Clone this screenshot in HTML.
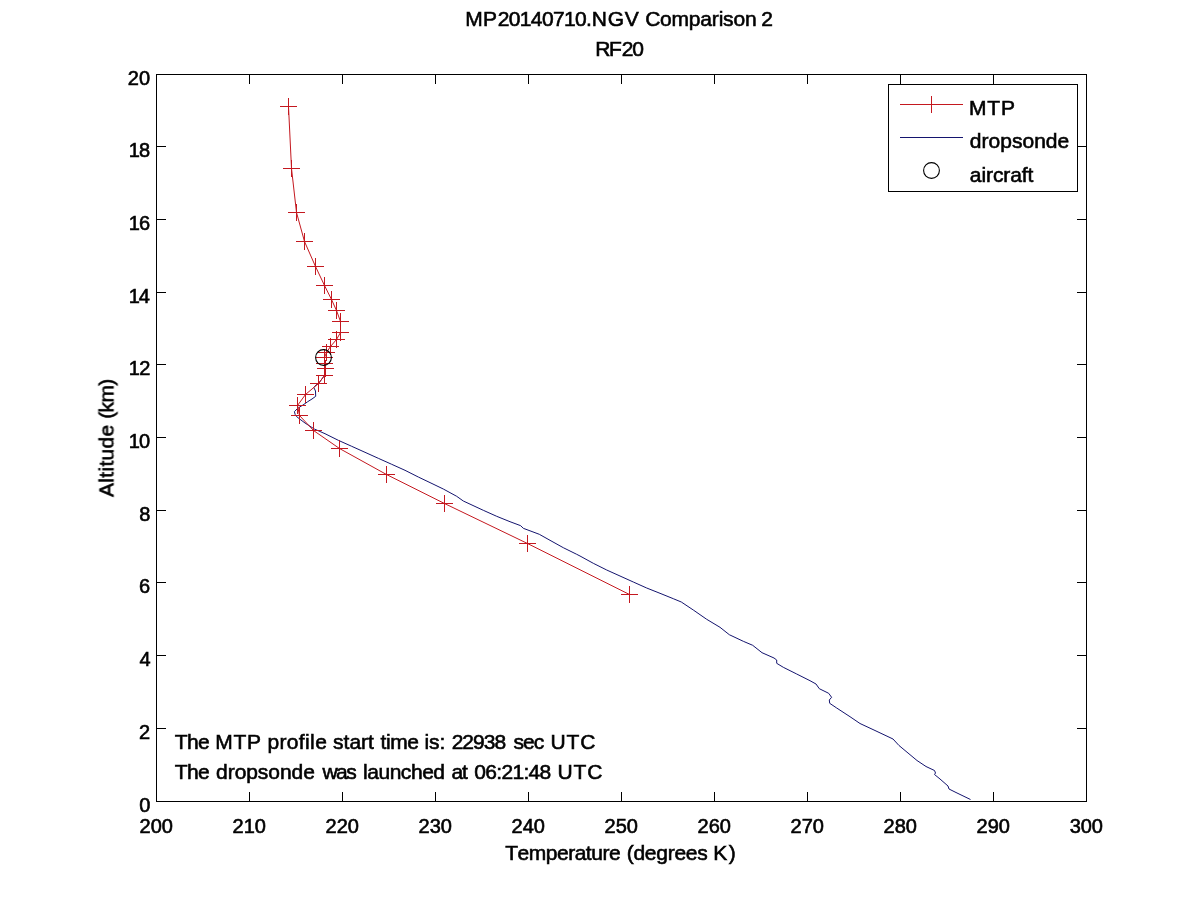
<!DOCTYPE html>
<html lang="en">
<head>
<meta charset="utf-8">
<title>MP20140710.NGV Comparison 2 - RF20</title>
<style>
html,body{margin:0;padding:0;background:#fff;}
body{width:1200px;height:900px;overflow:hidden;font-family:"Liberation Sans",Arial,Helvetica,sans-serif;}
svg{display:block;}
</style>
</head>
<body>
<svg width="1200" height="900" viewBox="0 0 1200 900">
<rect width="1200" height="900" fill="#fff"/>
<polyline points="324.5,357.5 324.5,363.5 325.5,368.5 324.5,375.5 318.5,383.5 316.0,385.0 313.8,387.5 315.5,391.0 315.7,396.3 312.0,399.0 307.7,401.7 303.0,405.0 299.7,407.0 297.0,409.0 294.4,411.7 295.2,414.5 296.3,416.3 300.0,419.3 305.0,423.0 314.3,429.0 325.0,433.7 338.3,440.3 351.7,446.3 365.0,452.3 378.3,458.3 391.7,464.3 405.0,470.3 418.3,477.0 430.0,482.6 443.3,489.0 456.7,496.3 463.3,501.0 483.3,510.3 496.7,516.3 510.0,521.7 520.7,525.7 523.3,528.3 539.3,534.3 550.0,540.3 563.3,547.7 576.7,554.3 580.0,556.0 593.3,563.3 606.7,570.0 620.0,576.0 633.3,582.0 646.7,588.0 660.0,593.3 673.3,598.7 681.3,602.0 693.3,610.0 706.7,619.3 720.0,627.3 729.3,634.7 743.3,641.3 752.7,645.3 762.0,652.7 774.0,658.0 776.7,660.0 776.7,663.3 783.3,667.3 796.7,674.0 810.0,680.7 816.0,684.0 819.3,688.7 828.7,693.3 831.6,697.3 829.3,700.0 829.7,703.3 836.7,708.0 850.0,716.7 860.0,723.5 875.0,730.5 893.0,739.0 899.0,745.5 908.0,753.0 917.0,760.5 926.0,766.5 934.5,770.5 935.5,773.0 934.5,774.5 940.0,779.0 948.0,786.0 949.0,789.0 956.0,792.5 970.5,799.5" fill="none" stroke="#14146e" stroke-width="1"/>
<polyline points="288.5,106.5 291.5,168.5 296.5,212.5 304.5,241.5 315.5,266.5 324.5,285.5 331.5,299.5 336.5,310.5 340.5,321.5 340.5,332.5 336.5,339.5 330.5,346.5 326.5,352.5 324.5,357.5 324.5,363.5 325.5,368.5 324.5,375.5 318.5,383.5 305.5,394.5 297.5,405.5 299.5,415.5 313.5,430.5 339.5,448.5 386.5,474.5 444.5,503.5 527.5,543.5 629.5,594.5" fill="none" stroke="#c4181f" stroke-width="1"/>
<path d="M280.0 106.5h17M288.5 98.0v17M283.0 168.5h17M291.5 160.0v17M288.0 212.5h17M296.5 204.0v17M296.0 241.5h17M304.5 233.0v17M307.0 266.5h17M315.5 258.0v17M316.0 285.5h17M324.5 277.0v17M323.0 299.5h17M331.5 291.0v17M328.0 310.5h17M336.5 302.0v17M332.0 321.5h17M340.5 313.0v17M332.0 332.5h17M340.5 324.0v17M328.0 339.5h17M336.5 331.0v17M322.0 346.5h17M330.5 338.0v17M318.0 352.5h17M326.5 344.0v17M316.0 357.5h17M324.5 349.0v17M316.0 363.5h17M324.5 355.0v17M317.0 368.5h17M325.5 360.0v17M316.0 375.5h17M324.5 367.0v17M310.0 383.5h17M318.5 375.0v17M297.0 394.5h17M305.5 386.0v17M289.0 405.5h17M297.5 397.0v17M291.0 415.5h17M299.5 407.0v17M305.0 430.5h17M313.5 422.0v17M331.0 448.5h17M339.5 440.0v17M378.0 474.5h17M386.5 466.0v17M436.0 503.5h17M444.5 495.0v17M519.0 543.5h17M527.5 535.0v17M621.0 594.5h17M629.5 586.0v17" fill="none" stroke="#c4181f" stroke-width="1" shape-rendering="crispEdges"/>
<circle cx="323.5" cy="357.5" r="7.9" fill="none" stroke="#000" stroke-width="1.1"/>
<g fill="#000" shape-rendering="crispEdges">
<path d="M156 74h931v1h-931zM156 801h931v1h-931zM156 74h1v728h-1zM1086 74h1v728h-1zM249 792h1v9h-1zM249 75h1v9h-1zM342 792h1v9h-1zM342 75h1v9h-1zM435 792h1v9h-1zM435 75h1v9h-1zM528 792h1v9h-1zM528 75h1v9h-1zM621 792h1v9h-1zM621 75h1v9h-1zM714 792h1v9h-1zM714 75h1v9h-1zM807 792h1v9h-1zM807 75h1v9h-1zM900 792h1v9h-1zM900 75h1v9h-1zM993 792h1v9h-1zM993 75h1v9h-1zM157 728h9v1h-9zM1077 728h9v1h-9zM157 655h9v1h-9zM1077 655h9v1h-9zM157 582h9v1h-9zM1077 582h9v1h-9zM157 510h9v1h-9zM1077 510h9v1h-9zM157 437h9v1h-9zM1077 437h9v1h-9zM157 364h9v1h-9zM1077 364h9v1h-9zM157 292h9v1h-9zM1077 292h9v1h-9zM157 219h9v1h-9zM1077 219h9v1h-9zM157 146h9v1h-9zM1077 146h9v1h-9z"/>
</g>
<rect x="888.5" y="84.5" width="189" height="107" fill="#fff" stroke="#000" stroke-width="1" shape-rendering="crispEdges"/>
<path d="M900 104.5h63M931.5 96v17" stroke="#c4181f" stroke-width="1" fill="none" shape-rendering="crispEdges"/>
<path d="M900 137.5h63" stroke="#14146e" stroke-width="1" fill="none" shape-rendering="crispEdges"/>
<circle cx="931.5" cy="170.5" r="7.9" fill="none" stroke="#000" stroke-width="1.1"/>
<g font-family="'Liberation Sans', Arial, Helvetica, sans-serif" font-size="21" fill="#000" stroke="#000" stroke-width="0.6" opacity="0.999" style="font-kerning:none;font-variant-ligatures:none">
<text id="t1" y="26"><tspan x="465.28" letter-spacing="0.330">MP</tspan><tspan x="497.84" letter-spacing="-0.665">20140710</tspan><tspan x="586.08">.</tspan><tspan x="591.68" letter-spacing="0.804">NGV </tspan><tspan x="645.13" letter-spacing="-0.198">Comparison </tspan><tspan x="761.24">2</tspan></text>
<text id="t2" y="56"><tspan x="595.28" letter-spacing="-1.530">RF</tspan><tspan x="621.84" letter-spacing="-1.382">20</tspan></text>
<text id="x0" y="833" font-size="20"><tspan x="139.59" letter-spacing="-0.041">200</tspan></text>
<text id="x1" y="833" font-size="20"><tspan x="232.59" letter-spacing="-0.041">210</tspan></text>
<text id="x2" y="833" font-size="20"><tspan x="325.59" letter-spacing="-0.041">220</tspan></text>
<text id="x3" y="833" font-size="20"><tspan x="418.59" letter-spacing="-0.041">230</tspan></text>
<text id="x4" y="833" font-size="20"><tspan x="511.59" letter-spacing="-0.041">240</tspan></text>
<text id="x5" y="833" font-size="20"><tspan x="604.59" letter-spacing="-0.041">250</tspan></text>
<text id="x6" y="833" font-size="20"><tspan x="697.59" letter-spacing="-0.041">260</tspan></text>
<text id="x7" y="833" font-size="20"><tspan x="790.59" letter-spacing="-0.041">270</tspan></text>
<text id="x8" y="833" font-size="20"><tspan x="883.59" letter-spacing="-0.041">280</tspan></text>
<text id="x9" y="833" font-size="20"><tspan x="976.59" letter-spacing="-0.041">290</tspan></text>
<text id="x10" y="833" font-size="20"><tspan x="1069.84" letter-spacing="-0.163">300</tspan></text>
<text id="y0" y="812" font-size="20"><tspan x="139.22">0</tspan></text>
<text id="y1" y="739" font-size="20"><tspan x="138.99">2</tspan></text>
<text id="y2" y="666" font-size="20"><tspan x="139.54">4</tspan></text>
<text id="y3" y="593" font-size="20"><tspan x="138.98">6</tspan></text>
<text id="y4" y="521" font-size="20"><tspan x="139.13">8</tspan></text>
<text id="y5" y="448" font-size="20"><tspan x="128.78" letter-spacing="-0.941">10</tspan></text>
<text id="y6" y="375" font-size="20"><tspan x="128.78" letter-spacing="-0.717">12</tspan></text>
<text id="y7" y="303" font-size="20"><tspan x="128.78" letter-spacing="-1.137">14</tspan></text>
<text id="y8" y="230" font-size="20"><tspan x="128.78" letter-spacing="-0.844">16</tspan></text>
<text id="y9" y="157" font-size="20"><tspan x="128.78" letter-spacing="-0.854">18</tspan></text>
<text id="y10" y="85" font-size="20"><tspan x="127.79" letter-spacing="0.041">20</tspan></text>
<text id="xl" y="860"><tspan x="505.13" letter-spacing="-0.471">Temperature </tspan><tspan x="626.70" letter-spacing="-0.260">(degrees </tspan><tspan x="713.28" letter-spacing="1.525">K)</tspan></text>
<text id="yl" y="0" transform="translate(113.5,0) rotate(-90)"><tspan x="-496.94" letter-spacing="0.290">Altitude </tspan><tspan x="-418.80" letter-spacing="-0.625">(km)</tspan></text>
<text id="l1" y="115"><tspan x="968.88" letter-spacing="0.901">MTP</tspan></text>
<text id="l2" y="148"><tspan x="969.82" letter-spacing="0.021">dropsonde</tspan></text>
<text id="l3" y="182"><tspan x="969.81" letter-spacing="-0.076">aircraft</tspan></text>
<text id="a1" y="749"><tspan x="174.73" letter-spacing="-0.591">The </tspan><tspan x="215.28" letter-spacing="0.751">MTP </tspan><tspan x="267.40" letter-spacing="0.373">profile </tspan><tspan x="333.12" letter-spacing="-0.013">start </tspan><tspan x="380.58" letter-spacing="-0.407">time </tspan><tspan x="424.60" letter-spacing="-0.189">is: </tspan><tspan x="451.64" letter-spacing="-0.932">22938 </tspan><tspan x="513.42" letter-spacing="-0.971">sec </tspan><tspan x="550.58" letter-spacing="0.881">UTC</tspan></text>
<text id="a2" y="779"><tspan x="174.73" letter-spacing="-0.591">The </tspan><tspan x="216.12" letter-spacing="-0.067">dropsonde </tspan><tspan x="322.43" letter-spacing="-1.558">was </tspan><tspan x="362.98" letter-spacing="-0.453">launched </tspan><tspan x="451.41" letter-spacing="-0.968">at </tspan><tspan x="474.28" letter-spacing="-0.687">06:21:48 </tspan><tspan x="557.48" letter-spacing="0.931">UTC</tspan></text>
</g>
</svg>
</body>
</html>
